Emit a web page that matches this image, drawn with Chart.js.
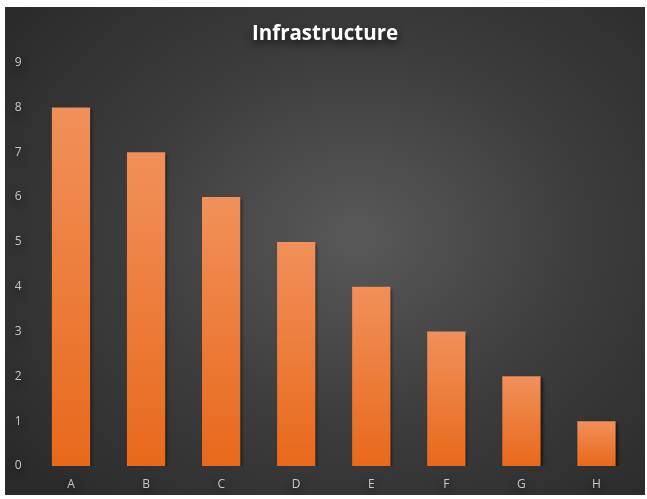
<!DOCTYPE html>
<html>
<head>
<meta charset="utf-8">
<script src="https://cdn.jsdelivr.net/npm/chart.js@4"></script>
<style>
  html, body { margin: 0; padding: 0; background: #fff; }
  .chart-card {
    position: absolute; left: 5px; top: 7px; width: 640px; height: 488px;
    background: radial-gradient(ellipse 70% 75% at 55% 47%, #595959 0%, #3d3d3d 50%, #2a2a2a 100%);
  }
</style>
</head>
<body>
<div class="chart-card"><canvas id="barChart" width="640" height="488"></canvas></div>
<script>
// dados
const categorias = ['A', 'B', 'C', 'D', 'E', 'F', 'G', 'H'];
const valores = [8, 7, 6, 5, 4, 3, 2, 1];
const ticksY = [0, 1, 2, 3, 4, 5, 6, 7, 8, 9];

const ctx = document.getElementById('barChart');

// sombra do título e das barras
const pluginSombra = {
    id: 'sombra',
    beforeDraw(chart) {
        const c = chart.ctx;
        c.shadowColor = 'rgba(0,0,0,0.75)';
        c.shadowBlur = 8;
        c.shadowOffsetY = 4;
    },
    beforeDatasetsDraw(chart) {
        const c = chart.ctx;
        c.shadowColor = 'rgba(0,0,0,0.55)';
        c.shadowBlur = 3;
        c.shadowOffsetX = 2;
        c.shadowOffsetY = 2;
    },
    afterDatasetsDraw(chart) {
        const c = chart.ctx;
        c.shadowColor = 'transparent';
        c.shadowBlur = 0;
        c.shadowOffsetX = 0;
        c.shadowOffsetY = 0;
    }
};

function gradienteBarra(context) {
    const chart = context.chart;
    const y = chart.scales.y;
    if (!y || !chart.chartArea) return '#ee7a30';
    const v = context.raw;
    const g = chart.ctx.createLinearGradient(0, y.getPixelForValue(v), 0, y.getPixelForValue(0));
    g.addColorStop(0, '#f1905a');
    g.addColorStop(1, '#e8691b');
    return g;
}

new Chart(ctx, {
    type: 'bar',
    data: {
        labels: categorias,
        datasets: [{
            label: 'Infrastructure',
            data: valores,
            backgroundColor: gradienteBarra,
            borderWidth: 0,
            categoryPercentage: 1,
            barPercentage: 0.51
        }]
    },
    options: {
        responsive: false,
        animation: false,
        layout: { padding: 0 },
        plugins: {
            legend: { display: false },
            tooltip: { enabled: false },
            title: {
                display: true,
                text: 'Infrastructure',
                color: '#ffffff',
                font: { family: '"Open Sans"', size: 20.5, weight: 'bold' },
                padding: { top: 15, bottom: 16 }
            }
        },
        scales: {
            x: {
                z: 1,
                grid: { display: false },
                border: { display: false },
                ticks: { color: '#c8c8c8', font: { family: '"Open Sans"', size: 12 }, padding: 3 },
                afterFit: s => { s.height = 29; }
            },
            y: {
                z: 1,
                min: 0,
                max: 9,
                afterBuildTicks: s => { s.ticks = ticksY.map(v => ({ value: v })); },
                grid: { display: false },
                border: { display: false },
                ticks: { color: '#c8c8c8', font: { family: '"Open Sans"', size: 12 }, padding: 4 },
                afterFit: s => { s.width = 28.5; }
            },
            // eixo vazio só para a margem direita
            margem: {
                position: 'right',
                z: 1,
                grid: { display: false },
                border: { display: false },
                ticks: { display: false },
                afterFit: s => { s.width = 11; }
            }
        }
    },
    plugins: [pluginSombra]
});
</script>
</body>
</html>
